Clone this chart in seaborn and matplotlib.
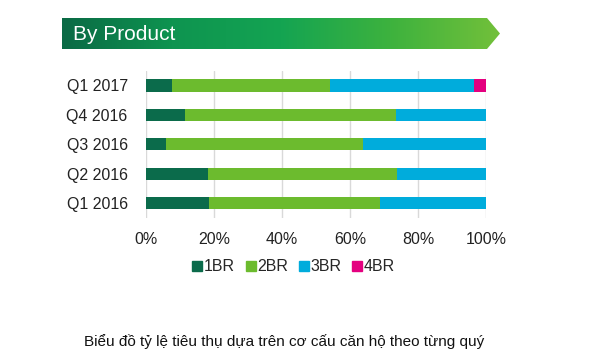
import numpy as np
import pandas as pd
import seaborn as sns
import matplotlib.pyplot as plt
from matplotlib.patches import Polygon

# data (share of sales, %)
quarters = ["Q1 2016", "Q2 2016", "Q3 2016", "Q4 2016", "Q1 2017"]
br1 = [18.6, 18.3, 5.9, 11.5, 7.6]
br2 = [50.3, 55.5, 57.9, 62.0, 46.4]
br3 = [31.1, 26.2, 36.2, 26.5, 42.3]
br4 = [0.0, 0.0, 0.0, 0.0, 3.7]
series = ["1BR", "2BR", "3BR", "4BR"]
colors = ["#0b6b4b", "#6cbb2e", "#00acdc", "#e4007f"]

sns.set_theme(style="white")
plt.rcParams["font.family"] = ["Liberation Sans", "DejaVu Sans"]

df = pd.DataFrame({"quarter": quarters, "1BR": br1, "2BR": br2, "3BR": br3, "4BR": br4})
cum = df[series].cumsum(axis=1)
cum["quarter"] = df["quarter"]
order = quarters[::-1]

fig = plt.figure(figsize=(6.1, 3.63), dpi=100)
ax = fig.add_axes([0.239, 0.40, 0.558, 0.405])

# stacked bars: draw cumulative totals from last to first
for name, col in reversed(list(zip(series, colors))):
    sns.barplot(data=cum, x=name, y="quarter", order=order, orient="h",
                color=col, width=0.42, saturation=1, linewidth=0, ax=ax)

ax.set_xlim(0, 100)
ax.set_xticks([0, 20, 40, 60, 80, 100])
ax.set_xticklabels([f"{t}%" for t in range(0, 101, 20)], fontsize=11.5, color="#222222")
ax.tick_params(axis="y", labelsize=11.5, labelcolor="#222222", length=0, pad=13)
ax.tick_params(axis="x", length=0, pad=10)
ax.set_xlabel("")
ax.set_ylabel("")
ax.grid(axis="x", color="#d9d9d9", linewidth=1)
ax.set_axisbelow(True)
for s in ax.spines.values():
    s.set_visible(False)

# legend
handles = [plt.Line2D([], [], marker="s", linestyle="", color=c, markersize=7) for c in colors]
fig.legend(handles, series, loc="center", bbox_to_anchor=(0.48, 0.265), ncol=4, frameon=False,
           fontsize=11.5, handletextpad=0.0, columnspacing=0.6, handlelength=0.8)

# title banner with gradient arrow
bax = fig.add_axes([0, 0, 1, 1], zorder=-1)
bax.set_xlim(0, 610)
bax.set_ylim(363, 0)
bax.axis("off")
x0, x1, xt, y0, y1 = 62, 487, 500, 18, 49
poly = Polygon([[x0, y0], [x1, y0], [xt, (y0 + y1) / 2], [x1, y1], [x0, y1]],
               closed=True, facecolor="none", edgecolor="none")
bax.add_patch(poly)
grad = np.linspace(0, 1, 256).reshape(1, -1)
cmap = plt.matplotlib.colors.LinearSegmentedColormap.from_list(
    "banner", ["#0a6a45", "#0e9450", "#14a452", "#3db23e", "#72c03a"])
im = bax.imshow(grad, extent=[x0, xt, y1, y0], aspect="auto", cmap=cmap)
im.set_clip_path(poly)
bax.text(73, (y0 + y1) / 2 + 1, "By Product", color="white", fontsize=15, va="center", ha="left")

fig.text(284 / 610, 1 - 342 / 363, "Biểu đồ tỷ lệ tiêu thụ dựa trên cơ cấu căn hộ theo từng quý",
         ha="center", va="center", fontsize=11, color="#111111")

fig.savefig("out.png", dpi=100)
